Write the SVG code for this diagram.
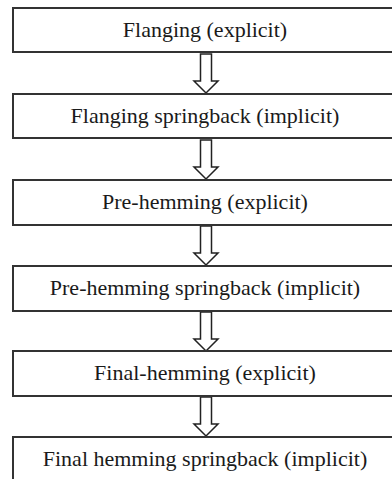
<svg xmlns="http://www.w3.org/2000/svg" width="392" height="479" viewBox="0 0 392 479">
<defs>
<style>
.box{fill:#fff;stroke:#333;stroke-width:2}
.t{font-family:"Liberation Serif","Times New Roman",serif;font-size:22px;fill:#1a1a1a;text-anchor:middle}
.arr{fill:#fff;stroke:#222;stroke-width:1.5;stroke-linejoin:miter}
</style>
<path id="a" d="M-5.5,0 H5.5 V27 H12 L0,39 L-12,27 H-5.5 Z"/>
</defs>
<rect width="392" height="479" fill="#fff"/>
<g id="connectors">
<use href="#a" class="arr" x="206" y="54"/>
<use href="#a" class="arr" x="206" y="140"/>
<use href="#a" class="arr" x="206" y="226"/>
<use href="#a" class="arr" x="206" y="312"/>
<use href="#a" class="arr" x="206" y="397"/>
</g>
<g id="n1"><rect class="box" x="13" y="8" width="390" height="44"/><text class="t" x="205" y="37">Flanging (explicit)</text></g>
<g id="n2"><rect class="box" x="13" y="94" width="390" height="44"/><text class="t" x="205" y="123">Flanging springback (implicit)</text></g>
<g id="n3"><rect class="box" x="13" y="180" width="390" height="45"/><text class="t" x="205" y="209">Pre-hemming (explicit)</text></g>
<g id="n4"><rect class="box" x="13" y="266" width="390" height="45"/><text class="t" x="205" y="295">Pre-hemming springback (implicit)</text></g>
<g id="n5"><rect class="box" x="13" y="351" width="390" height="45"/><text class="t" x="205" y="380">Final-hemming (explicit)</text></g>
<g id="n6"><rect class="box" x="13" y="437" width="390" height="60"/><text class="t" x="205" y="466">Final hemming springback (implicit)</text></g>
</svg>
